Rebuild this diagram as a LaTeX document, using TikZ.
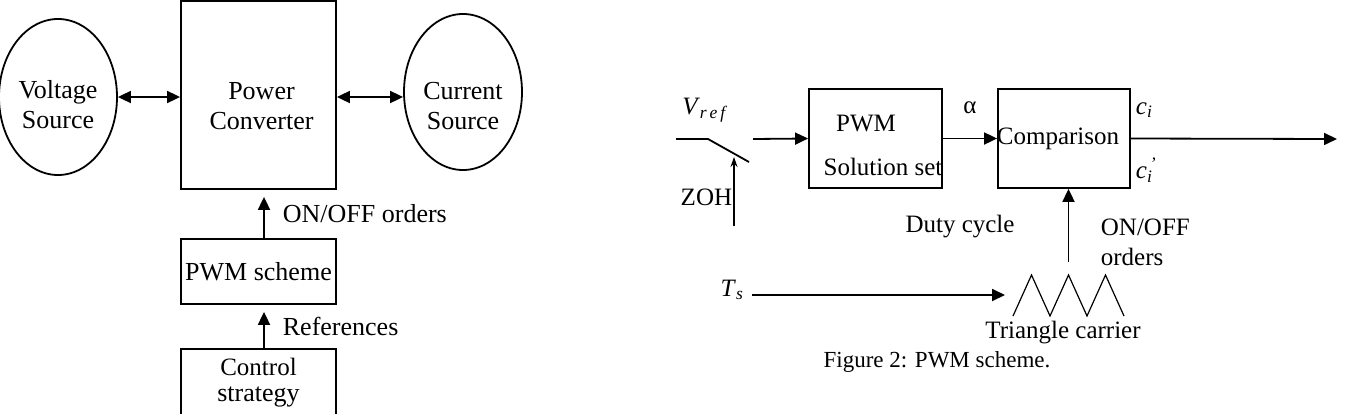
\documentclass[tikz,border=0pt]{standalone}
\usepackage{fontspec}
\setmainfont{Liberation Serif}
\usetikzlibrary{positioning}
\usetikzlibrary{shapes.geometric}
\usetikzlibrary{arrows.meta}

\begin{document}
\begin{tikzpicture}
    [%
        x=1pt,%
        y=-1pt,%
        line width=1.8pt,%
        every node/.style={%
            inner sep=0pt,%
            font=\fontsize{26}{30}\selectfont%
        },%
        block/.style={%
            draw,%
            rectangle,%
            minimum width=155pt,%
            align=center%
        },%
        source/.style={%
            draw,%
            ellipse,%
            minimum width=118pt,%
            minimum height=156pt%
        },%
        inner text/.style={%
            align=center,%
            yshift=-#1%
        },%
        small text/.style={%
            font=\fontsize{25}{30}\selectfont%
        },%
        flow/.style={%
            -{Triangle[length=13pt,width=12pt]}%
        },%
        both ways/.style={%
            {Triangle[length=13pt,width=12pt]}-{Triangle[length=13pt,width=12pt]}%
        }%
    ]%
    \useasboundingbox (0,0) rectangle (1352,413);
%
    % converter and its sources
    \node[source, label={[inner text=8pt]center:{Voltage\\Source}}] (voltage) at (58,97) {};
    \node[block, minimum height=188pt,
        label={[inner text=11pt, xshift=3pt]center:{Power\\Converter}}] (converter) at (258.5,95) {};
    \node[source, label={[inner text=14pt]center:{Current\\Source}}] (current) at (463,92) {};
    \draw[both ways] (voltage.east) -- (voltage.east -| converter.west);
    \draw[both ways] (converter.east |- voltage.east) -- (current.west |- voltage.east);
%
    \node[block, minimum height=65pt] (pwm) at (258.5,271.5) {PWM scheme};
    \node[block, minimum height=68pt] (control) at (258.5,383)
        {\fontsize{25}{30}\selectfont Control\\[-4pt]strategy};
    \draw[flow, shorten >=7pt] ([xshift=5.5pt]pwm.north) -- ([xshift=5.5pt]converter.south)
        node[pos=0.5, right=18pt] {ON/OFF orders};
    \draw[flow, shorten >=7pt] ([xshift=5.5pt]control.north) -- ([xshift=5.5pt]pwm.south)
        node[pos=0.5, right=18pt] {References};
%
    % sampled reference
    \coordinate (sw-in) at (676,139);
    \coordinate (sw-pivot) at (708,139);
    \coordinate (sw-tip) at (749,162);
    \coordinate (sw-out) at (753,139);
    \draw (sw-in) -- (sw-pivot) -- (sw-tip);
    \node[small text] (vref) at (705,110) {\textit{V}\textsubscript{\textit{r\,e\,f}}};
    \node[small text, anchor=east] (zoh) at (733,197) {ZOH};
    \coordinate (zoh-foot) at (734,226);
    \coordinate (zoh-top) at (734,157);
    \draw[-{Stealth[length=10pt,width=7pt]}, line width=1.2pt] (zoh-foot) -- (zoh-top);
%
    % solution set and comparison
    \node[block, minimum width=133pt, minimum height=99pt] (solution) at (875.5,138.5) {};
    \node[small text] (solution-pwm) at (866,123) {PWM};
    \node[small text] (solution-set) at (883,167) {Solution set};
    \node[block, minimum width=132pt, minimum height=99pt,
        label={[small text, xshift=-6pt]center:Comparison}] (comparison) at (1064,138.5) {};
    \draw[flow] (sw-out) -- (solution.west);
    \draw[flow] (solution.east) -- (comparison.west) node[midway, above=24pt, small text] {α};
    \coordinate (out) at (1337,139);
    \draw[flow] (comparison.east) -- (out);
    \node[small text, anchor=west] (ci) at (1135,110) {\textit{c}\textsubscript{\textit{i}}};
    \node[small text, anchor=west] (ci-prime) at (1135,170)
        {\textit{c}\makebox[0pt][l]{\textsuperscript{\,\textit{'}}}\textsubscript{\textit{i}}};
    \node[small text] (duty) at (960,227) {Duty cycle};
    \node[small text, align=left, anchor=west] (orders) at (1100,242) {ON/OFF\\orders};
%
    % triangle carrier
    \coordinate (carrier-start) at (1013,316);
    \draw[line width=1.2pt] (carrier-start)
        \foreach \k in {1,2,3} {-- ++(18.5,-41) coordinate (peak-\k) -- ++(18.5,41)};
    \draw[flow, shorten <=13pt] (peak-2) -- (peak-2 |- comparison.south);
    \node[small text] (carrier-label) at (1063,333) {Triangle carrier};
    \node[small text] (ts) at (732,290) {\textit{T}\textsubscript{\textit{s}}};
    \coordinate (ts-out) at (752,295);
    \coordinate (carrier-in) at (1005,295);
    \draw[flow] (ts-out) -- (carrier-in);
%
    \node[font=\fontsize{23}{28}\selectfont] (caption) at (937,362) {Figure 2: PWM scheme.};
\end{tikzpicture}
\end{document}
